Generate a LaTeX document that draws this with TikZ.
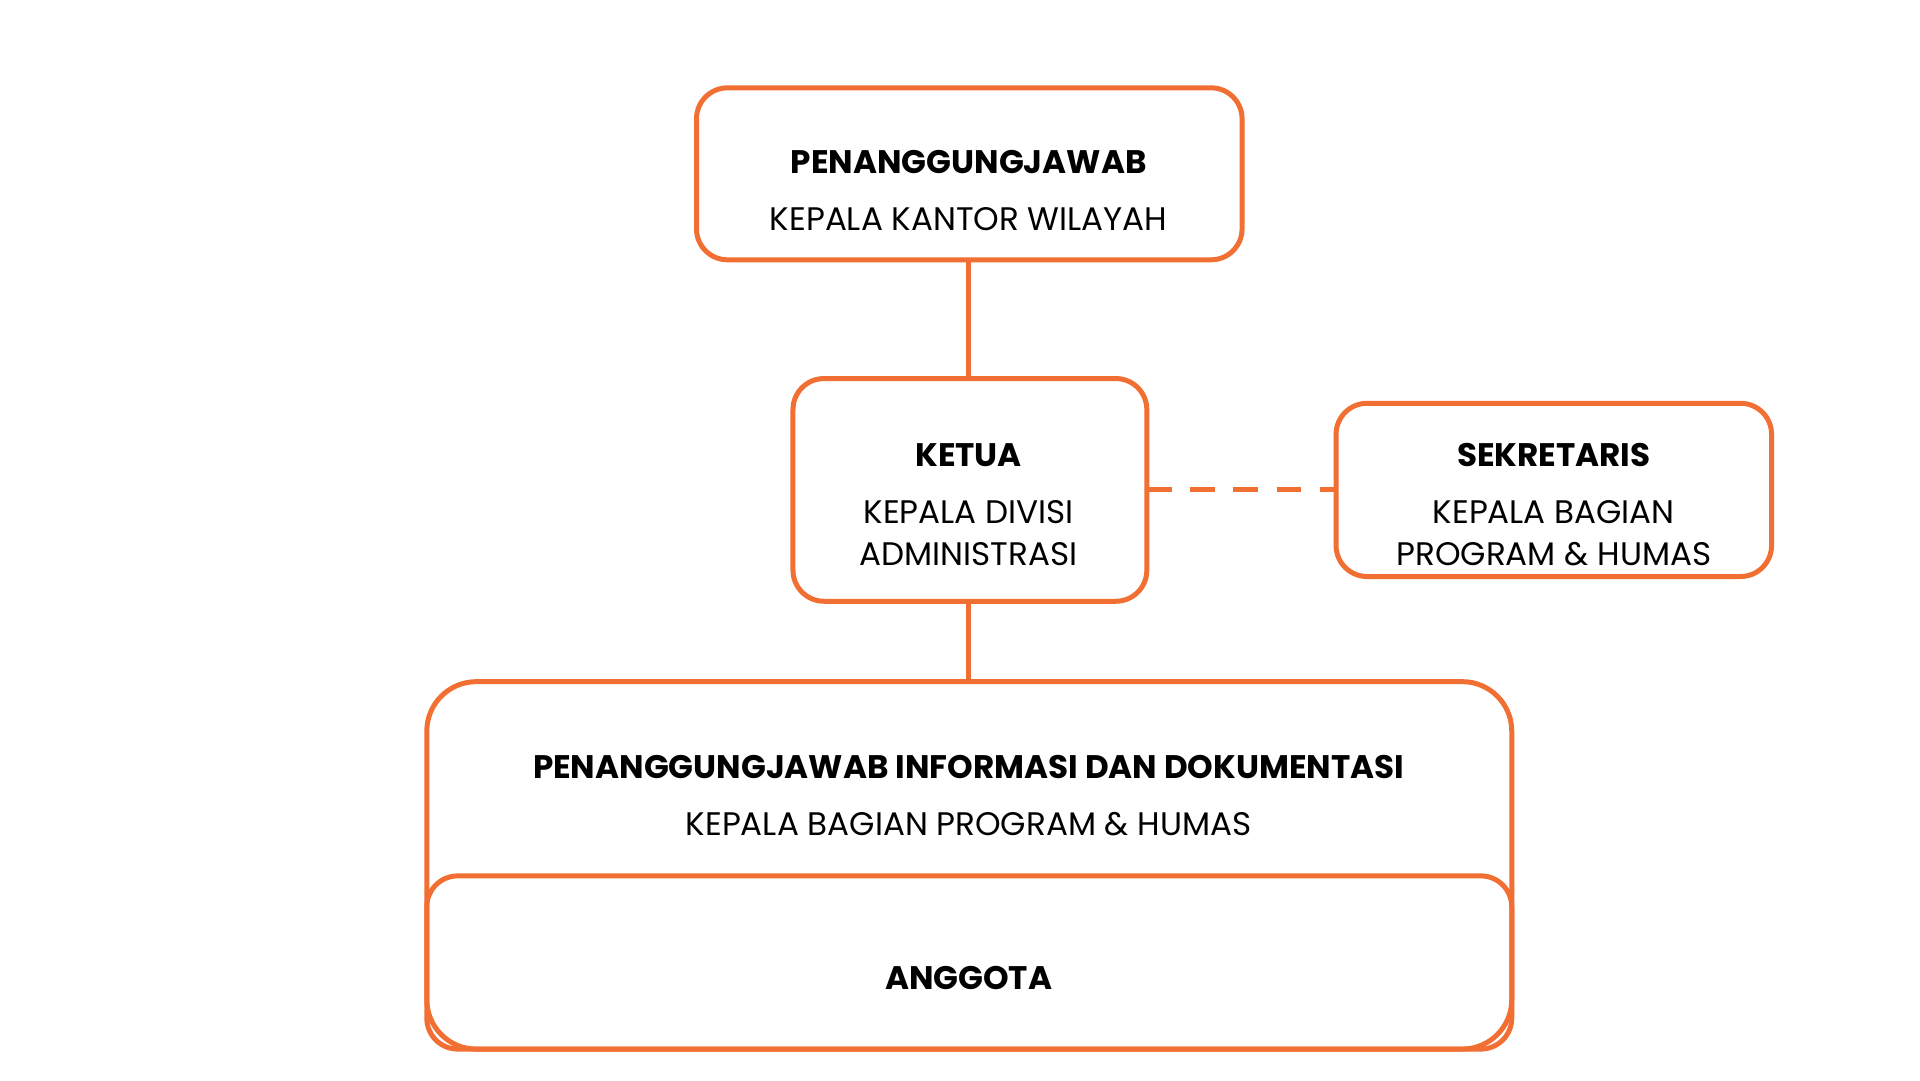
\documentclass[tikz,border=0pt]{standalone}
\usepackage{fontspec}
\setmainfont{Poppins}
\definecolor{org}{HTML}{F26F33}
\begin{document}
\begin{tikzpicture}[x=0.02cm,y=-0.02cm,
  box/.style={draw=org,line width=2.3pt,rounded corners=0.5cm},
  lbl/.style={font=\fontsize{15}{18}\selectfont,inner sep=0pt,anchor=base},
  blbl/.style={lbl,font=\fontsize{15}{18}\selectfont\bfseries},
  conn/.style={draw=org,line width=2.3pt}]
\useasboundingbox (0,0) rectangle (1552,873);
\draw[box] (563,71) rectangle (1004,210);
\coordinate (topb) at (783,210);
\draw[box] (641,306) rectangle (927,486);
\coordinate (ktop) at (783,306);
\coordinate (kbot) at (783,486);
\coordinate (kr) at (927,396);
\draw[box] (1080,326) rectangle (1432,466);
\coordinate (sl) at (1080,396);
\draw[box,rounded corners=0.8cm] (345,551) rectangle (1222,848);
\coordinate (btop) at (783,551);
\draw[box] (345,708) rectangle (1222,848);
\node[blbl] (t1) at (783,140) {PENANGGUNGJAWAB};
\node[lbl] (t2) at (783,186) {KEPALA KANTOR WILAYAH};
\node[blbl] (k1) at (783,377) {KETUA};
\node[lbl] (k2) at (783,423) {KEPALA DIVISI};
\node[lbl] (k3) at (783,457) {ADMINISTRASI};
\node[blbl] (s1) at (1256,377) {SEKRETARIS};
\node[lbl] (s2) at (1256,423) {KEPALA BAGIAN};
\node[lbl] (s3) at (1256,457) {PROGRAM \& HUMAS};
\node[blbl] (p1) at (783,629) {PENANGGUNGJAWAB INFORMASI DAN DOKUMENTASI};
\node[lbl] (p2) at (783,675) {KEPALA BAGIAN PROGRAM \& HUMAS};
\node[blbl] (a1) at (783,800) {ANGGOTA};
\draw[conn] (topb) -- (ktop);
\draw[conn] (kbot) -- (btop);
\draw[conn,dash pattern=on 0.4cm off 0.3cm] (kr) -- (sl);
\end{tikzpicture}
\end{document}
